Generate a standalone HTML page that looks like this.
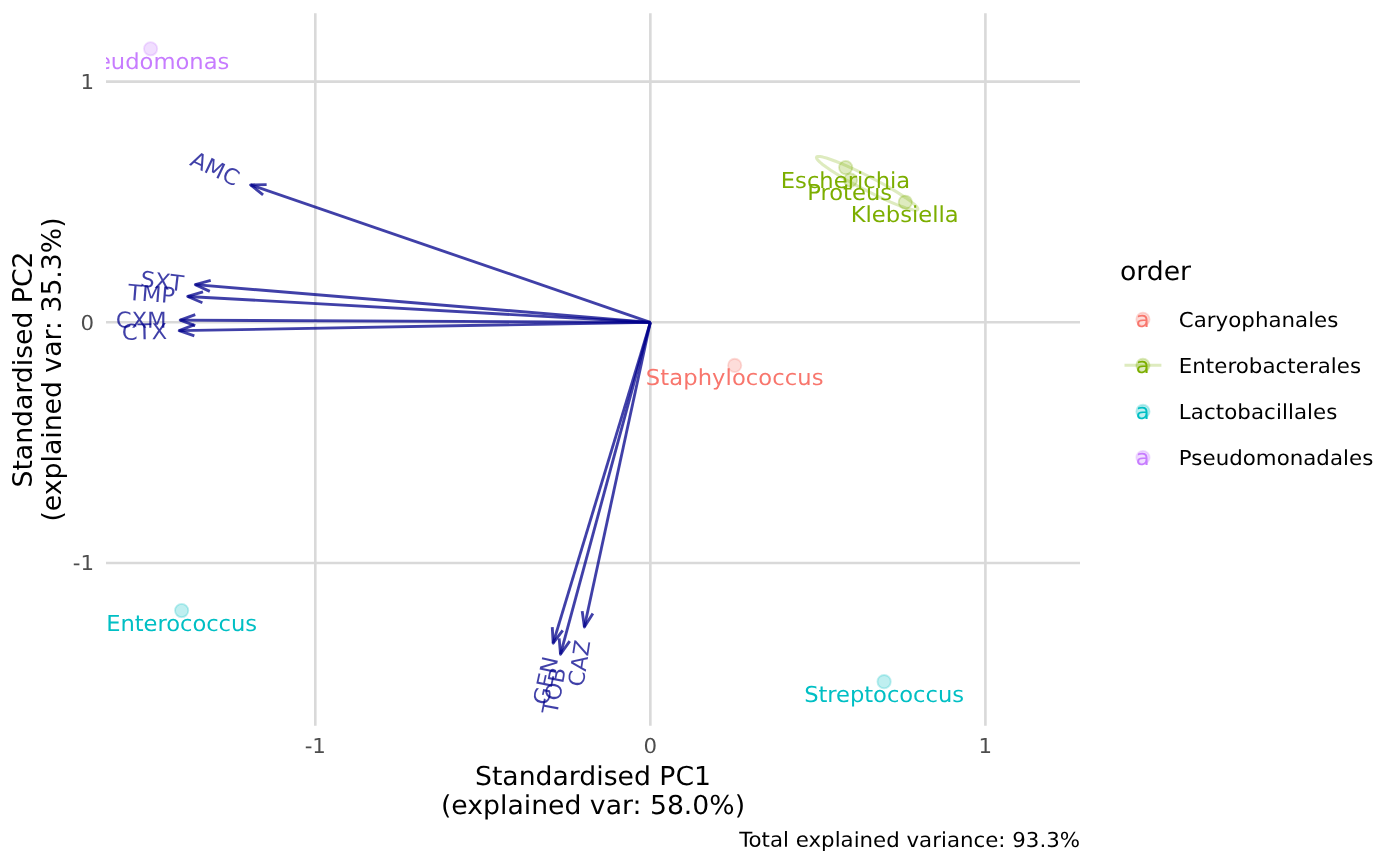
<!DOCTYPE html>
<html lang="en"><head><meta charset="utf-8"><title>PCA biplot</title>
<style>html,body{margin:0;padding:0;background:#fff}svg{display:block}</style></head>
<body>
<svg width="1400" height="866" viewBox="0 0 1400 866" font-family="'DejaVu Sans','Liberation Sans',sans-serif">
<rect width="1400" height="866" fill="#fff"/>
<defs><clipPath id="pc"><rect x="106.0" y="13.3" width="974.0" height="712.4000000000001"/></clipPath></defs>
<g stroke="#D9D9D9" stroke-width="2.6" fill="none">
<line x1="106.0" x2="1080.0" y1="563.00" y2="563.00"/>
<line x1="106.0" x2="1080.0" y1="322.30" y2="322.30"/>
<line x1="106.0" x2="1080.0" y1="81.60" y2="81.60"/>
<line y1="13.3" y2="725.7" x1="315.30" x2="315.30"/>
<line y1="13.3" y2="725.7" x1="650.35" x2="650.35"/>
<line y1="13.3" y2="725.7" x1="985.40" x2="985.40"/>
</g>
<g clip-path="url(#pc)">
<g stroke="#00008B" stroke-opacity="0.75" stroke-width="2.85" fill="none" stroke-linecap="butt" stroke-linejoin="round">
<line x1="650.35" y1="322.3" x2="250.63" y2="184.89"/>
<polyline points="263.07,194.95 250.63,184.89 266.63,184.60"/>
<line x1="650.35" y1="322.3" x2="195.30" y2="284.70"/>
<polyline points="209.83,291.39 195.30,284.70 210.73,280.48"/>
<line x1="650.35" y1="322.3" x2="187.70" y2="296.47"/>
<polyline points="202.40,302.77 187.70,296.47 203.01,291.84"/>
<line x1="650.35" y1="322.3" x2="180.20" y2="320.11"/>
<polyline points="195.21,325.65 180.20,320.11 195.26,314.70"/>
<line x1="650.35" y1="322.3" x2="179.20" y2="330.68"/>
<polyline points="194.33,335.88 179.20,330.68 194.14,324.94"/>
<line x1="650.35" y1="322.3" x2="553.15" y2="643.15"/>
<polyline points="562.74,630.35 553.15,643.15 552.27,627.18"/>
<line x1="650.35" y1="322.3" x2="560.51" y2="654.24"/>
<polyline points="569.72,641.16 560.51,654.24 559.16,638.30"/>
<line x1="650.35" y1="322.3" x2="584.35" y2="626.93"/>
<polyline points="592.89,613.39 584.35,626.93 582.19,611.07"/>
</g>
<path d="M816.43,157.59 L816.85,156.81 L818.09,156.47 L820.14,156.57 L822.96,157.11 L826.51,158.07 L830.72,159.45 L835.53,161.23 L840.87,163.36 L846.63,165.82 L852.73,168.57 L859.07,171.56 L865.54,174.75 L872.04,178.07 L878.46,181.48 L884.69,184.92 L890.63,188.33 L896.19,191.66 L901.28,194.86 L905.80,197.86 L909.69,200.63 L912.88,203.11 L915.32,205.26 L916.97,207.06 L917.80,208.46 L917.80,209.45 L916.97,210.01 L915.32,210.13 L912.88,209.82 L909.69,209.06 L905.80,207.89 L901.28,206.31 L896.19,204.35 L890.63,202.05 L884.69,199.44 L878.46,196.56 L872.04,193.47 L865.54,190.21 L859.07,186.83 L852.73,183.40 L846.63,179.97 L840.87,176.59 L835.53,173.32 L830.72,170.21 L826.51,167.32 L822.96,164.70 L820.14,162.37 L818.09,160.39 L816.85,158.79 L816.43,157.59Z" fill="none" stroke="#7CAE00" stroke-opacity="0.25" stroke-width="3.05" stroke-linejoin="round"/>
<circle cx="150.6" cy="48.8" r="6.65" fill="#C77CFF" fill-opacity="0.25" stroke="#C77CFF" stroke-opacity="0.25" stroke-width="1.8"/>
<circle cx="181.65" cy="610.55" r="6.65" fill="#00BFC4" fill-opacity="0.25" stroke="#00BFC4" stroke-opacity="0.25" stroke-width="1.8"/>
<circle cx="884.1" cy="681.65" r="6.65" fill="#00BFC4" fill-opacity="0.25" stroke="#00BFC4" stroke-opacity="0.25" stroke-width="1.8"/>
<circle cx="734.7" cy="365.4" r="6.65" fill="#F8766D" fill-opacity="0.25" stroke="#F8766D" stroke-opacity="0.25" stroke-width="1.8"/>
<circle cx="845.7" cy="167.6" r="6.65" fill="#7CAE00" fill-opacity="0.25" stroke="#7CAE00" stroke-opacity="0.25" stroke-width="1.8"/>
<circle cx="850.5" cy="180.1" r="6.65" fill="#7CAE00" fill-opacity="0.25" stroke="#7CAE00" stroke-opacity="0.25" stroke-width="1.8"/>
<circle cx="905.3" cy="202.2" r="6.65" fill="#7CAE00" fill-opacity="0.25" stroke="#7CAE00" stroke-opacity="0.25" stroke-width="1.8"/>
<text transform="translate(150.60,69.00) rotate(0.03) scale(1,0.969)" font-size="22.65" fill="#C77CFF" text-anchor="middle">Pseudomonas</text>
<text transform="translate(181.65,631.00) rotate(0.03) scale(1,0.969)" font-size="22.65" fill="#00BFC4" text-anchor="middle" textLength="150.83" lengthAdjust="spacing">Enterococcus</text>
<text transform="translate(884.10,702.00) rotate(0.03) scale(1,0.969)" font-size="22.65" fill="#00BFC4" text-anchor="middle" textLength="159.80" lengthAdjust="spacing">Streptococcus</text>
<text transform="translate(734.70,385.00) rotate(0.03) scale(1,0.969)" font-size="22.65" fill="#F8766D" text-anchor="middle" textLength="177.70" lengthAdjust="spacing">Staphylococcus</text>
<text transform="translate(845.50,188.00) rotate(0.03) scale(1,0.969)" font-size="22.65" fill="#7CAE00" text-anchor="middle">Escherichia</text>
<text transform="translate(849.60,200.00) rotate(0.03) scale(1,0.969)" font-size="22.65" fill="#7CAE00" text-anchor="middle">Proteus</text>
<text transform="translate(904.70,222.00) rotate(0.03) scale(1,0.969)" font-size="22.65" fill="#7CAE00" text-anchor="middle">Klebsiella</text>
<text transform="translate(249.78,184.60) rotate(25.57) scale(1,0.969)" x="-63.57" y="8.56" font-size="22.65" fill="#00008B" fill-opacity="0.75" text-anchor="start">AMC</text>
<text transform="translate(194.40,284.62) rotate(6.56) scale(1,0.969)" x="-54.16" y="8.15" font-size="22.65" fill="#00008B" fill-opacity="0.75" text-anchor="start">SXT</text>
<text transform="translate(186.80,296.42) rotate(4.44) scale(1,0.969)" x="-58.80" y="8.15" font-size="22.65" fill="#00008B" fill-opacity="0.75" text-anchor="start">TMP</text>
<text transform="translate(179.30,320.10) rotate(0.37) scale(1,0.969)" x="-63.59" y="8.15" font-size="22.65" fill="#00008B" fill-opacity="0.75" text-anchor="start">CXM</text>
<text transform="translate(178.30,330.69) rotate(-1.42) scale(1,0.969)" x="-56.46" y="8.15" font-size="22.65" fill="#00008B" fill-opacity="0.75" text-anchor="start">CTX</text>
<text transform="translate(552.89,644.01) rotate(-77.72) scale(1,0.969)" x="-61.71" y="8.56" font-size="22.65" fill="#00008B" fill-opacity="0.75" text-anchor="start">GEN</text>
<text transform="translate(560.28,655.11) rotate(-79.00) scale(1,0.969)" x="-59.70" y="8.56" font-size="22.65" fill="#00008B" fill-opacity="0.75" text-anchor="start">TOB</text>
<text transform="translate(584.16,627.81) rotate(-81.15) scale(1,0.969)" x="-59.23" y="8.56" font-size="22.65" fill="#00008B" fill-opacity="0.75" text-anchor="start">CAZ</text>
</g>
<text transform="translate(94.10,570.00) rotate(0.03) scale(1,0.965)" font-size="21.33" fill="#4D4D4D" text-anchor="end">-1</text>
<text transform="translate(94.10,330.00) rotate(0.03) scale(1,0.965)" font-size="21.33" fill="#4D4D4D" text-anchor="end">0</text>
<text transform="translate(94.10,89.00) rotate(0.03) scale(1,0.965)" font-size="21.33" fill="#4D4D4D" text-anchor="end">1</text>
<text transform="translate(315.30,753.00) rotate(0.03) scale(1,0.965)" font-size="21.33" fill="#4D4D4D" text-anchor="middle">-1</text>
<text transform="translate(650.35,753.00) rotate(0.03) scale(1,0.965)" font-size="21.33" fill="#4D4D4D" text-anchor="middle">0</text>
<text transform="translate(985.40,753.00) rotate(0.03) scale(1,0.965)" font-size="21.33" fill="#4D4D4D" text-anchor="middle">1</text>
<text transform="translate(593.00,785.00) rotate(0.03) scale(1,0.977)" font-size="26.67" fill="#000" text-anchor="middle">Standardised PC1</text>
<text transform="translate(593.00,814.00) rotate(0.03) scale(1,0.977)" font-size="26.67" fill="#000" text-anchor="middle">(explained var: 58.0%)</text>
<text transform="translate(32.00,369.50) rotate(-90.00) scale(1,0.977)" font-size="26.67" fill="#000" text-anchor="middle">Standardised PC2</text>
<text transform="translate(60.60,369.50) rotate(-90.00) scale(1,0.977)" font-size="26.67" fill="#000" text-anchor="middle">(explained var: 35.3%)</text>
<text transform="translate(1080.00,847.00) rotate(0.03) scale(1,0.965)" font-size="21.33" fill="#000" text-anchor="end">Total explained variance: 93.3%</text>
<text transform="translate(1119.90,280.00) rotate(0.03) scale(1,0.977)" font-size="26.67" fill="#000" text-anchor="start">order</text>
<circle cx="1142.96" cy="319.25" r="6.65" fill="#F8766D" fill-opacity="0.25" stroke="#F8766D" stroke-opacity="0.25" stroke-width="1.8"/>
<text transform="translate(1142.66,327.00) rotate(0.03) scale(1,0.969)" font-size="22.65" fill="#F8766D" text-anchor="middle">a</text>
<text transform="translate(1178.80,327.00) rotate(0.03) scale(1,0.965)" font-size="21.33" fill="#000" text-anchor="start" textLength="159.59" lengthAdjust="spacing">Caryophanales</text>
<circle cx="1142.96" cy="365.33" r="6.65" fill="#7CAE00" fill-opacity="0.25" stroke="#7CAE00" stroke-opacity="0.25" stroke-width="1.8"/>
<line x1="1124.5" x2="1161.4" y1="365.33" y2="365.33" stroke="#7CAE00" stroke-opacity="0.25" stroke-width="3.05"/>
<text transform="translate(1142.66,373.00) rotate(0.03) scale(1,0.969)" font-size="22.65" fill="#7CAE00" text-anchor="middle">a</text>
<text transform="translate(1178.80,373.00) rotate(0.03) scale(1,0.965)" font-size="21.33" fill="#000" text-anchor="start" textLength="182.31" lengthAdjust="spacing">Enterobacterales</text>
<circle cx="1142.96" cy="411.41" r="6.65" fill="#00BFC4" fill-opacity="0.25" stroke="#00BFC4" stroke-opacity="0.25" stroke-width="1.8"/>
<text transform="translate(1142.66,419.00) rotate(0.03) scale(1,0.969)" font-size="22.65" fill="#00BFC4" text-anchor="middle">a</text>
<text transform="translate(1178.80,419.00) rotate(0.03) scale(1,0.965)" font-size="21.33" fill="#000" text-anchor="start" textLength="158.64" lengthAdjust="spacing">Lactobacillales</text>
<circle cx="1142.96" cy="457.49" r="6.65" fill="#C77CFF" fill-opacity="0.25" stroke="#C77CFF" stroke-opacity="0.25" stroke-width="1.8"/>
<text transform="translate(1142.66,465.00) rotate(0.03) scale(1,0.969)" font-size="22.65" fill="#C77CFF" text-anchor="middle">a</text>
<text transform="translate(1178.80,465.00) rotate(0.03) scale(1,0.965)" font-size="21.33" fill="#000" text-anchor="start" textLength="194.47" lengthAdjust="spacing">Pseudomonadales</text>
</svg>
</body></html>
